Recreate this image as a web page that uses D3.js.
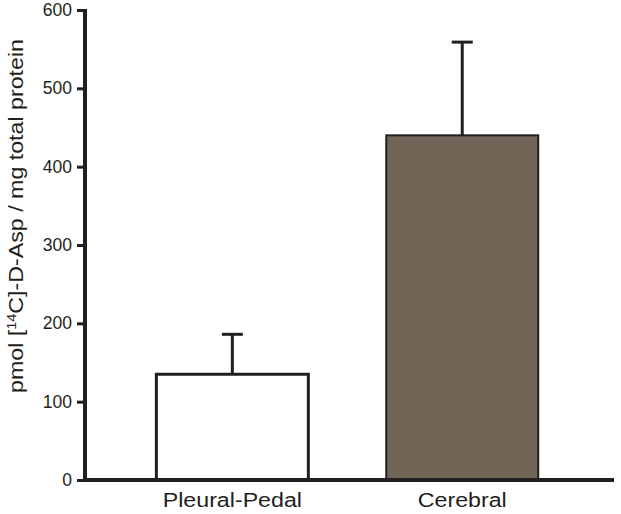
<!DOCTYPE html>
<html>
<head>
<meta charset="utf-8">
<script src="https://cdn.jsdelivr.net/npm/d3@7"></script>
<style>
  body { margin: 0; background: #fff; }
  text { font-family: "Liberation Sans", Arial, sans-serif; fill: #231f20; }
</style>
</head>
<body>
<div id="chart"></div>
<script>
var categories = ["Pleural-Pedal", "Cerebral"];
var means = [135, 440];
var errors = [51, 119];
var fills = ["#ffffff", "#716558"];
var yTicks = [0, 100, 200, 300, 400, 500, 600];

var width = 621, height = 514;
var ink = "#231f20";
var stretch = 1.16; // the original labels are a little wider than Arial

var svg = d3.select("#chart")
  .append("svg")
    .attr("width", width)
    .attr("height", height);

var x = d3.scaleBand()
  .domain(categories)
  .range([85, 614])
  .paddingInner(0.339)
  .paddingOuter(0.32)
  .align(0.485);

var y = d3.scaleLinear()
  .domain([0, 600])
  .range([480, 10]);

// error bars (drawn first so the bar top covers the stem)
var err = svg.append("g")
  .selectAll("g")
  .data(categories)
  .enter()
  .append("g");

err.append("line")
  .attr("x1", d => x(d) + x.bandwidth() / 2)
  .attr("x2", d => x(d) + x.bandwidth() / 2)
  .attr("y1", (d, i) => y(means[i]))
  .attr("y2", (d, i) => y(means[i] + errors[i]))
  .style("stroke", ink)
  .style("stroke-width", 3);

err.append("line")
  .attr("x1", d => x(d) + x.bandwidth() / 2 - 10.5)
  .attr("x2", d => x(d) + x.bandwidth() / 2 + 10.5)
  .attr("y1", (d, i) => y(means[i] + errors[i]))
  .attr("y2", (d, i) => y(means[i] + errors[i]))
  .style("stroke", ink)
  .style("stroke-width", 3);

// bars
svg.append("g")
  .selectAll("rect")
  .data(categories)
  .enter()
  .append("rect")
    .attr("x", d => x(d))
    .attr("width", x.bandwidth())
    .attr("y", (d, i) => y(means[i]))
    .attr("height", (d, i) => y(0) - y(means[i]))
    .style("fill", (d, i) => fills[i])
    .style("stroke", ink)
    .style("stroke-width", (d, i) => i == 0 ? 3 : 2);

// y axis
var yAxis = svg.append("g")
  .attr("transform", "translate(85,0)")
  .call(d3.axisLeft(y).tickValues(yTicks).tickSize(8).tickPadding(5).tickSizeOuter(0));
yAxis.select(".domain")
  .attr("d", "M0," + (y(600) - 1) + "V" + (y(0) + 2))
  .style("stroke", ink)
  .style("stroke-width", 4);
yAxis.selectAll(".tick line").style("stroke", ink).style("stroke-width", 3);
yAxis.selectAll(".tick text")
  .style("font-size", "17.5px")
  .style("font-family", "'Liberation Sans', Arial, sans-serif")
  .style("fill", ink);

// x axis
var xAxis = svg.append("g")
  .attr("transform", "translate(0," + y(0) + ")")
  .call(d3.axisBottom(x).tickSize(0).tickPadding(13));
xAxis.select(".domain")
  .attr("d", "M83,0H614")
  .style("stroke", ink)
  .style("stroke-width", 4);
xAxis.selectAll(".tick text")
  .style("font-size", "20px")
  .style("font-family", "'Liberation Sans', Arial, sans-serif")
  .style("fill", ink)
  .each(function() {
    d3.select(this)
      .attr("textLength", this.getComputedTextLength() * stretch)
      .attr("lengthAdjust", "spacingAndGlyphs");
  });

// y axis title
var title = svg.append("text")
  .attr("transform", "translate(22.5,216) rotate(-90)")
  .attr("text-anchor", "middle")
  .style("font-size", "20px");
title.append("tspan").text("pmol [");
title.append("tspan").text("14").attr("dy", -7).style("font-size", "12.5px");
title.append("tspan").text("C]-D-Asp / mg total protein").attr("dy", 7);
title.attr("textLength", title.node().getComputedTextLength() * stretch)
  .attr("lengthAdjust", "spacingAndGlyphs");
</script>
</body>
</html>
